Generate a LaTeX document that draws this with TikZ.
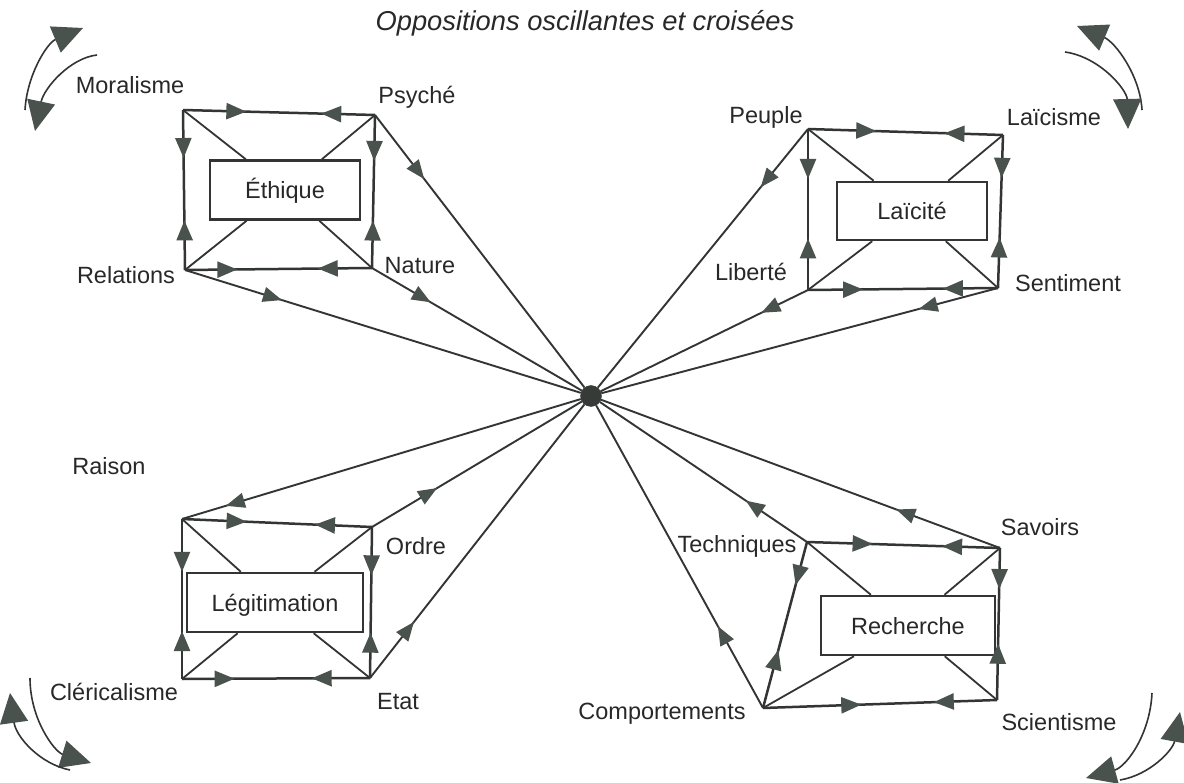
\documentclass[tikz,border=0pt]{standalone}
\usepackage{fontspec}
\setmainfont{Liberation Sans}
\usetikzlibrary{arrows.meta,decorations.markings}
\definecolor{linecol}{RGB}{50,53,51}
\definecolor{tipcol}{RGB}{74,82,78}
\definecolor{txtcol}{RGB}{40,40,40}
\tikzset{
  etip/.tip={Triangle[length=20pt,width=16pt,color=tipcol,fill=tipcol]},
  stip/.tip={Triangle[length=19pt,width=15pt,color=tipcol,fill=tipcol]},
  btip/.tip={Triangle[length=30pt,width=28pt,color=tipcol,fill=tipcol]},
  frame/.style 2 args={draw=linecol,line width=2.5pt,postaction={decorate,decoration={markings,
      mark=at position #1 with {\arrow{etip}},
      mark=at position #2 with {\arrowreversed{etip}}}}},
  spoke/.style={draw=linecol,line width=1.9pt,postaction={decorate,decoration={markings,
      mark=at position #1 with {\arrow{stip}}}}},
  spokeout/.style={draw=linecol,line width=1.9pt,postaction={decorate,decoration={markings,
      mark=at position #1 with {\arrowreversed{stip}}}}},
  diag/.style={draw=linecol,line width=1.8pt},
  osc/.style={draw=linecol,line width=1.6pt,-btip},
  lbl/.style={anchor=base,inner sep=0pt,text=txtcol,font=\fontsize{23.5}{28}\selectfont},
  box/.style={draw=linecol,line width=2.5pt,fill=white,inner sep=0pt,text=txtcol,
      font=\fontsize{23.5}{28}\selectfont,text height=17pt,text depth=0pt},
  hub/.style={circle,fill=linecol!80!tipcol,draw=linecol,inner sep=0pt,minimum size=21pt}
}
\begin{document}
\begin{tikzpicture}[x=1pt,y=-1pt]
\useasboundingbox (0,0) rectangle (1184,783);
\fill[white] (0,0) rectangle (1184,783);

% title
\node[lbl,font=\fontsize{27.3}{32}\selectfont\itshape] (title) at (585,31) {Oppositions oscillantes et croisées};

% corner points
\coordinate (M) at (183,110);  \coordinate (P) at (375,115);
\coordinate (R) at (185,270);  \coordinate (N) at (372,268);
\coordinate (Pe) at (808,129); \coordinate (La) at (1003,135);
\coordinate (Li) at (808,290); \coordinate (Se) at (998,288);
\coordinate (Ra) at (182,519); \coordinate (Or) at (372,527);
\coordinate (Cl) at (182,679); \coordinate (Et) at (370,678);
\coordinate (Te) at (807,542); \coordinate (Sa) at (1000,548);
\coordinate (Co) at (763,708); \coordinate (Sc) at (997,700);

% centre
\node[hub] (c) at (591,396) {};

% spokes
\draw[spoke=0.235] (P) -- (c);
\draw[spoke=0.28] (N) -- (c);
\draw[spoke=0.245] (R) -- (c);
\draw[spoke=0.225] (Pe) -- (c);
\draw[spoke=0.225] (Li) -- (c);
\draw[spoke=0.2] (Se) -- (c);
\draw[spokeout=0.11] (Ra) -- (c);
\draw[spoke=0.31] (Or) -- (c);
\draw[spoke=0.205] (Et) -- (c);
\draw[spoke=0.295] (Te) -- (c);
\draw[spoke=0.26] (Sa) -- (c);
\draw[spoke=0.27] (Co) -- (c);

% boxes
\node[box,minimum width=150pt,minimum height=59pt] (eth) at (285,190) {Éthique};
\node[box,minimum width=150pt,minimum height=58pt] (lai) at (912,211) {Laïcité};
\node[box,minimum width=176pt,minimum height=59pt] (leg) at (275,602.5) {Légitimation};
\node[box,minimum width=174pt,minimum height=59pt] (rec) at (908,625.5) {Recherche};

% diagonals
\foreach \a/\b in {M/eth,P/eth,R/eth,N/eth,Pe/lai,La/lai,Li/lai,Se/lai,Ra/leg,Or/leg,Cl/leg,Et/leg,Te/rec,Sa/rec,Co/rec,Sc/rec}
  \draw[diag] (\a) -- (\b);

% frames
\draw[frame={0.33}{0.72}] (M) -- (P);
\draw[frame={0.30}{0.69}] (M) -- (R);
\draw[frame={0.30}{0.69}] (P) -- (N);
\draw[frame={0.28}{0.71}] (R) -- (N);

\draw[frame={0.35}{0.70}] (Pe) -- (La);
\draw[frame={0.31}{0.68}] (Pe) -- (Li);
\draw[frame={0.28}{0.67}] (La) -- (Se);
\draw[frame={0.29}{0.71}] (Li) -- (Se);

\draw[frame={0.34}{0.70}] (Ra) -- (Or);
\draw[frame={0.33}{0.70}] (Ra) -- (Cl);
\draw[frame={0.32}{0.70}] (Or) -- (Et);
\draw[frame={0.28}{0.69}] (Cl) -- (Et);

\draw[frame={0.34}{0.70}] (Te) -- (Sa);
\draw[frame={0.26}{0.65}] (Te) -- (Co);
\draw[frame={0.27}{0.63}] (Sa) -- (Sc);
\draw[frame={0.42}{0.73}] (Co) -- (Sc);

% oscillation arrows
\coordinate (tl1) at (25,110);  \coordinate (tl1e) at (83,28);
\coordinate (tl2) at (97,55);   \coordinate (tl2e) at (35,131);
\draw[osc] (tl1) .. controls (27,75) and (47,43) .. (tl1e);
\draw[osc] (tl2) .. controls (70,58) and (44,88) .. (tl2e);

\coordinate (tr1) at (1142,110); \coordinate (tr1e) at (1077,26);
\coordinate (tr2) at (1065,52);  \coordinate (tr2e) at (1128,129);
\draw[osc] (tr1) .. controls (1140,75) and (1115,42) .. (tr1e);
\draw[osc] (tr2) .. controls (1100,57) and (1127,90) .. (tr2e);

\coordinate (bl1) at (30,678);  \coordinate (bl1e) at (91,763);
\coordinate (bl2) at (70,770);  \coordinate (bl2e) at (10,693);
\draw[osc] (bl1) .. controls (30,720) and (55,752) .. (bl1e);
\draw[osc] (bl2) .. controls (40,764) and (16,737) .. (bl2e);

\coordinate (br1) at (1152,693); \coordinate (br1e) at (1086,778);
\coordinate (br2) at (1120,780); \coordinate (br2e) at (1180,712);
\draw[osc] (br1) .. controls (1150,735) and (1126,767) .. (br1e);
\draw[osc] (br2) .. controls (1150,775) and (1173,750) .. (br2e);

% labels
\node[lbl] (lMor) at (130,94) {Moralisme};
\node[lbl] (lPsy) at (417,104) {Psyché};
\node[lbl] (lRel) at (126,284) {Relations};
\node[lbl] (lNat) at (420,274) {Nature};
\node[lbl] (lPeu) at (766,124) {Peuple};
\node[lbl] (lLai) at (1054,126) {Laïcisme};
\node[lbl] (lLib) at (751,281) {Liberté};
\node[lbl] (lSen) at (1068,292) {Sentiment};
\node[lbl] (lRai) at (109,475) {Raison};
\node[lbl] (lOrd) at (416,554) {Ordre};
\node[lbl] (lCle) at (114,700) {Cléricalisme};
\node[lbl] (lEta) at (398,709) {Etat};
\node[lbl] (lTec) at (737,552) {Techniques};
\node[lbl] (lSav) at (1040,536) {Savoirs};
\node[lbl] (lCom) at (662,719) {Comportements};
\node[lbl] (lSci) at (1059,730) {Scientisme};
\end{tikzpicture}
\end{document}
